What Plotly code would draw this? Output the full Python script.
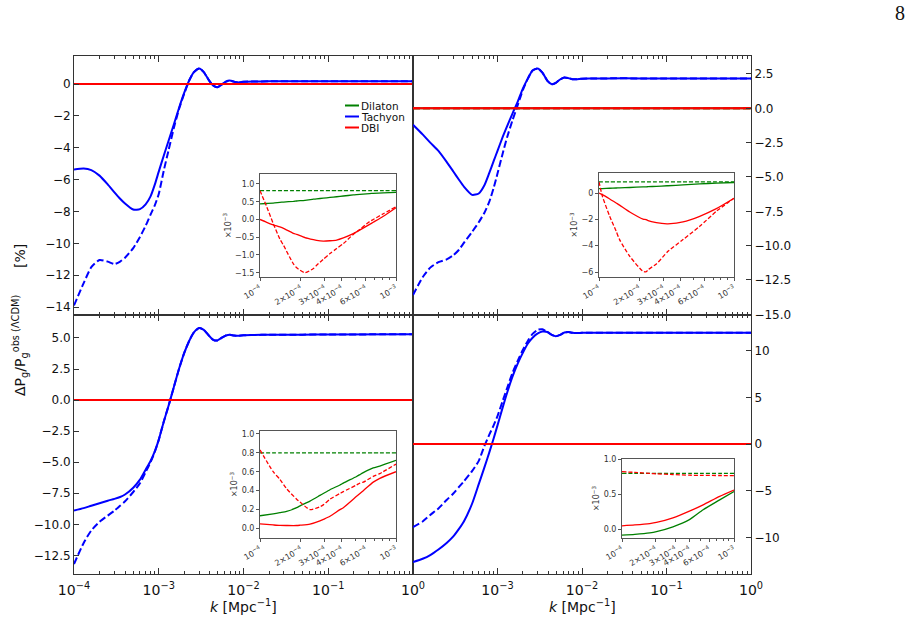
import plotly.graph_objects as go

# ---------------- data ----------------
K_MAIN = [1.0e-4, 1.3e-4, 1.6e-4, 2.0e-4, 2.5e-4, 3.0e-4, 3.5e-4, 4.0e-4, 5.0e-4, 6.0e-4,
          7.0e-4, 8.0e-4, 9.0e-4, 1.0e-3, 1.15e-3, 1.3e-3, 1.5e-3, 1.75e-3, 2.0e-3, 2.3e-3,
          2.6e-3, 3.0e-3, 3.4e-3, 3.9e-3, 4.4e-3, 4.9e-3, 5.5e-3, 6.2e-3, 6.9e-3, 7.7e-3,
          8.6e-3, 1.0e-2, 1.3e-2, 2.0e-2, 5.0e-2, 1.0e-1, 1.0]

# top-left panel (Tachyon solid / dashed)
TL_TACHYON = [-5.37, -5.30, -5.40, -5.75, -6.30, -6.80, -7.20, -7.50, -7.88, -7.85,
              -7.55, -7.05, -6.30, -5.50, -4.47, -3.59, -2.57, -1.44, -0.54, 0.25,
              0.75, 0.98, 0.75, 0.25, -0.10, -0.20, -0.05, 0.15, 0.22, 0.15,
              0.10, 0.14, 0.16, 0.17, 0.18, 0.18, 0.18]
TL_TACHYON_D = [-13.9, -12.5, -11.5, -11.05, -11.15, -11.3, -11.15, -10.9, -10.3, -9.6,
                -8.9, -8.2, -7.6, -6.9, -5.4, -4.2, -2.8, -1.5, -0.6, 0.25,
                0.75, 0.98, 0.75, 0.25, -0.10, -0.20, -0.05, 0.15, 0.22, 0.15,
                0.10, 0.14, 0.16, 0.17, 0.18, 0.18, 0.18]
# top-right panel
TR_TACHYON = [-1.2, -1.9, -2.5, -3.1, -3.9, -4.6, -5.2, -5.7, -6.3, -6.2,
              -5.6, -4.7, -3.85, -3.1, -2.1, -1.3, -0.4, 0.55, 1.45, 2.2,
              2.75, 2.9, 2.6, 2.0, 1.75, 1.85, 2.1, 2.25, 2.2, 2.12,
              2.12, 2.16, 2.17, 2.18, 2.18, 2.18, 2.18]
TR_TACHYON_D = [-13.6, -12.3, -11.6, -11.2, -11.0, -10.7, -10.3, -9.8, -9.0, -8.3,
                -7.6, -6.8, -5.8, -4.75, -3.3, -2.1, -0.9, 0.3, 1.35, 2.2,
                2.75, 2.9, 2.6, 2.0, 1.75, 1.85, 2.1, 2.25, 2.2, 2.12,
                2.12, 2.16, 2.17, 2.18, 2.18, 2.18, 2.18]
# bottom-left panel
BL_TACHYON = [-8.9, -8.7, -8.5, -8.3, -8.1, -7.95, -7.8, -7.6, -7.05, -6.4,
              -5.6, -4.9, -4.1, -3.2, -1.7, -0.5, 1.0, 2.6, 3.8, 4.8,
              5.45, 5.8, 5.65, 5.2, 4.85, 4.8, 5.0, 5.2, 5.26, 5.2,
              5.18, 5.22, 5.24, 5.26, 5.27, 5.28, 5.3]
BL_TACHYON_D = [-13.2, -11.5, -10.5, -9.8, -9.3, -8.9, -8.5, -8.15, -7.4, -6.7,
                -5.8, -5.0, -4.15, -3.2, -1.7, -0.5, 1.0, 2.6, 3.8, 4.8,
                5.45, 5.8, 5.65, 5.2, 4.85, 4.8, 5.0, 5.2, 5.26, 5.2,
                5.18, 5.22, 5.24, 5.26, 5.27, 5.28, 5.3]
# bottom-right panel
BR_TACHYON = [-12.65, -12.3, -11.9, -11.3, -10.6, -9.9, -9.1, -8.3, -6.4, -4.3,
              -2.5, -0.9, 0.6, 2.0, 3.9, 5.5, 7.2, 8.7, 9.8, 10.8,
              11.4, 11.85, 12.05, 12.0, 11.7, 11.55, 11.7, 11.95, 12.0, 11.93,
              11.9, 11.92, 11.93, 11.93, 11.93, 11.93, 11.93]
BR_TACHYON_D = [-8.9, -8.3, -7.6, -6.9, -6.0, -5.3, -4.6, -4.0, -2.9, -1.8,
                -0.2, 1.0, 2.0, 3.0, 4.6, 6.0, 7.6, 9.0, 10.1, 11.1,
                11.8, 12.25, 12.3, 12.0, 11.7, 11.55, 11.7, 11.95, 12.0, 11.93,
                11.9, 11.92, 11.93, 11.93, 11.93, 11.93, 11.93]

# Dilaton and DBI are ~0 on the main scale
K_FLAT = [1.0e-4, 1.0]
DILATON_MAIN = [0.0, 0.0]
DBI_MAIN = [0.0, 0.0]

# insets (units of 1e-3 %)
K_IN_TL = [1.0e-4, 1.12e-4, 1.25e-4, 1.4e-4, 1.49e-4, 1.76e-4, 1.86e-4, 2.14e-4, 2.47e-4, 2.61e-4,
           2.92e-4, 3.27e-4, 3.66e-4, 4.1e-4, 4.85e-4, 5.13e-4, 6.4e-4, 6.8e-4, 8.07e-4, 1.0e-3]
TL_DIL = [0.44, 0.45, 0.46, 0.48, 0.49, 0.51, 0.52, 0.54, 0.57, 0.58,
          0.60, 0.62, 0.64, 0.66, 0.69, 0.70, 0.73, 0.735, 0.75, 0.765]
TL_DIL_D = [0.81] * 20
TL_DBI = [0.0, -0.08, -0.15, -0.21, -0.25, -0.39, -0.42, -0.51, -0.57, -0.59,
          -0.61, -0.60, -0.58, -0.52, -0.40, -0.35, -0.14, -0.08, 0.09, 0.33]
TL_DBI_D = [0.81, 0.36, -0.11, -0.55, -0.73, -1.25, -1.36, -1.50, -1.38, -1.29,
            -1.12, -0.96, -0.82, -0.68, -0.42, -0.35, -0.06, 0.0, 0.16, 0.36]

K_IN_TR = [1.0e-4, 1.06e-4, 1.2e-4, 1.34e-4, 1.42e-4, 1.69e-4, 2.12e-4, 2.24e-4, 2.31e-4, 2.66e-4,
           3.19e-4, 3.24e-4, 4.19e-4, 5.57e-4, 7.4e-4, 1.0e-3]
TR_DIL = [0.33, 0.34, 0.36, 0.38, 0.39, 0.42, 0.46, 0.47, 0.48, 0.51,
          0.55, 0.55, 0.62, 0.69, 0.75, 0.80]
TR_DIL_D = [0.84] * 16
TR_DBI = [0.0, -0.12, -0.45, -0.76, -0.92, -1.44, -1.98, -2.03, -2.10, -2.25,
          -2.35, -2.35, -2.2, -1.77, -1.19, -0.4]
TR_DBI_D = [0.84, -0.25, -1.77, -2.9, -3.54, -4.81, -5.95, -5.98, -5.82, -5.39,
            -4.5, -4.43, -3.54, -2.53, -1.39, -0.4]

K_IN_BL = [1.0e-4, 1.25e-4, 1.4e-4, 1.57e-4, 1.86e-4, 1.97e-4, 2.33e-4, 2.76e-4, 2.92e-4, 3.27e-4,
           3.87e-4, 4.1e-4, 5.13e-4, 5.43e-4, 5.75e-4, 6.8e-4, 7.6e-4, 1.0e-3]
BL_DIL = [0.135, 0.155, 0.167, 0.18, 0.22, 0.24, 0.29, 0.35, 0.37, 0.41,
          0.46, 0.48, 0.55, 0.57, 0.59, 0.64, 0.66, 0.72]
BL_DIL_D = [0.80] * 18
BL_DBI = [0.05, 0.038, 0.033, 0.032, 0.032, 0.035, 0.046, 0.08, 0.096, 0.13,
          0.20, 0.22, 0.34, 0.37, 0.40, 0.49, 0.53, 0.60]
BL_DBI_D = [0.83, 0.60, 0.52, 0.42, 0.31, 0.28, 0.20, 0.23, 0.25, 0.31,
            0.37, 0.39, 0.46, 0.48, 0.49, 0.55, 0.58, 0.68]

K_IN_BR = [1.0e-4, 1.3e-4, 1.77e-4, 2.03e-4, 2.85e-4, 4.0e-4, 5.3e-4, 7.45e-4, 1.0e-3]
BR_DIL = [-0.08, -0.068, -0.047, -0.03, 0.038, 0.14, 0.28, 0.42, 0.54]
BR_DIL_D = [0.795] * 9
BR_DBI = [0.052, 0.065, 0.085, 0.10, 0.165, 0.26, 0.35, 0.47, 0.56]
BR_DBI_D = [0.82, 0.81, 0.795, 0.79, 0.78, 0.77, 0.768, 0.766, 0.765]

# legend entries and tick labels
LEGEND_NAMES = ["Dilaton", "Tachyon", "DBI"]
MAIN_XTICKVALS = [1e-4, 1e-3, 1e-2, 1e-1, 1.0]
MAIN_XTICKTEXT = ["10<sup>−4</sup>", "10<sup>−3</sup>", "10<sup>−2</sup>", "10<sup>−1</sup>", "10<sup>0</sup>"]
INSET_XTICKVALS = [1e-4, 2e-4, 3e-4, 4e-4, 6e-4, 1e-3]
INSET_XTICKTEXT = ["10<sup>−4</sup>", "2×10<sup>−4</sup>", "3×10<sup>−4</sup>", "4×10<sup>−4</sup>",
                   "6×10<sup>−4</sup>", "10<sup>−3</sup>"]

# ---------------- styling / layout ----------------
W, H = 912, 617
GREEN, BLUE, RED = "#008000", "#0000ff", "#ff0000"
LEGEND_COLORS = [GREEN, BLUE, RED]
FONT = "DejaVu Sans, Arial, sans-serif"
AX = "#333333"


def xd(a, b):
    return [a / W, b / W]


def yd(top, bot):
    return [1 - bot / H, 1 - top / H]


fig = go.Figure()

main_minor = [m * 10 ** e for e in range(-4, 0) for m in range(2, 10)]
inset_minor = [5e-4, 7e-4, 8e-4, 9e-4]


def add_line(x, y, color, xa, ya, dash="solid", width=2.0, name=None):
    fig.add_trace(go.Scatter(
        x=x, y=y, mode="lines", name=name, showlegend=False,
        line=dict(color=color, width=width, dash=dash, shape="spline", smoothing=0.6),
        xaxis=xa, yaxis=ya, hoverinfo="skip"))


MD = "7px,3px"
panels = [
    ("x", "y", TL_TACHYON, TL_TACHYON_D),
    ("x2", "y2", TR_TACHYON, TR_TACHYON_D),
    ("x3", "y3", BL_TACHYON, BL_TACHYON_D),
    ("x4", "y4", BR_TACHYON, BR_TACHYON_D),
]
for xa, ya, sol, das in panels:
    add_line(K_FLAT, DILATON_MAIN, GREEN, xa, ya, name="Dilaton")
    add_line(K_FLAT, DILATON_MAIN, GREEN, xa, ya, dash=MD)
    add_line(K_MAIN, sol, BLUE, xa, ya, name="Tachyon")
    add_line(K_MAIN, das, BLUE, xa, ya, dash=MD)
    add_line(K_FLAT, DBI_MAIN, RED, xa, ya, name="DBI")
    add_line(K_FLAT, DBI_MAIN, RED, xa, ya, dash=MD)

ID = "4px,2px"
insets = [
    ("x5", "y5", K_IN_TL, TL_DIL, TL_DIL_D, TL_DBI, TL_DBI_D),
    ("x6", "y6", K_IN_TR, TR_DIL, TR_DIL_D, TR_DBI, TR_DBI_D),
    ("x7", "y7", K_IN_BL, BL_DIL, BL_DIL_D, BL_DBI, BL_DBI_D),
    ("x8", "y8", K_IN_BR, BR_DIL, BR_DIL_D, BR_DBI, BR_DBI_D),
]
for xa, ya, kk, dil, dild, dbi, dbid in insets:
    add_line(kk, dil, GREEN, xa, ya, width=1.3)
    add_line(kk, dild, GREEN, xa, ya, dash=ID, width=1.3)
    add_line(kk, dbi, RED, xa, ya, width=1.3)
    add_line(kk, dbid, RED, xa, ya, dash=ID, width=1.3)


def main_x(dom, anchor, labels, text=None):
    return dict(
        type="log", range=[-4, 0], domain=dom, anchor=anchor, automargin=False,
        showline=True, linecolor=AX, linewidth=1, mirror="ticks",
        ticks="inside", ticklen=6, tickcolor=AX, tickwidth=1,
        tickvals=MAIN_XTICKVALS, ticktext=text if text else MAIN_XTICKTEXT,
        showticklabels=labels, showgrid=False, zeroline=False, ticklabelstandoff=3,
        tickfont=dict(family=FONT, size=14, color="#111"),
        minor=dict(tickmode="array", tickvals=main_minor, ticks="inside",
                   ticklen=3, tickcolor=AX, tickwidth=1),
    )


def main_y(dom, anchor, rng, dtick, side, fmt=None):
    d = dict(
        range=rng, domain=dom, anchor=anchor, side=side, automargin=False,
        showline=True, linecolor=AX, linewidth=1, mirror=True,
        ticks="inside", ticklen=5, tickcolor=AX, tickwidth=1,
        dtick=dtick, tick0=0, showgrid=False, zeroline=False,
        tickfont=dict(family=FONT, size=12, color="#111"),
    )
    if fmt:
        d["tickformat"] = fmt
    return d


def inset_x(dom, anchor):
    return dict(
        type="log", range=[-4, -3], domain=dom, anchor=anchor, automargin=False,
        showline=True, linecolor="#555", linewidth=1, mirror=True,
        ticks="outside", ticklen=3, tickcolor="#555",
        tickvals=INSET_XTICKVALS, ticktext=INSET_XTICKTEXT, tickangle=-30,
        tickfont=dict(family=FONT, size=8, color="#333"),
        showgrid=False, zeroline=False,
        minor=dict(tickmode="array", tickvals=inset_minor, ticks="outside",
                   ticklen=2, tickcolor="#555"),
    )


def inset_y(dom, anchor, rng, dtick, fmt):
    return dict(
        range=rng, domain=dom, anchor=anchor, automargin=False,
        showline=True, linecolor="#555", linewidth=1, mirror=True,
        ticks="outside", ticklen=3, tickcolor="#555",
        dtick=dtick, tick0=0, tickformat=fmt,
        tickfont=dict(family=FONT, size=8, color="#333"),
        showgrid=False, zeroline=False,
        title=dict(text="×10<sup>−3</sup>", font=dict(family=FONT, size=8, color="#333"),
                   standoff=2),
    )


right_text = [""] + MAIN_XTICKTEXT[1:]

fig.update_layout(
    width=W, height=H, margin=dict(l=0, r=0, t=0, b=0, autoexpand=False),
    paper_bgcolor="white", plot_bgcolor="white",
    font=dict(family=FONT, color="#111"),
    showlegend=False,
    xaxis=main_x(xd(74, 413), "y", False),
    yaxis=main_y(yd(56, 315), "x", [-14.5, 1.76], 2, "left"),
    xaxis2=main_x(xd(413, 751), "y2", False),
    yaxis2=main_y(yd(56, 315), "x2", [-15.05, 3.81], 2.5, "right", ".1f"),
    xaxis3=main_x(xd(74, 413), "y3", True),
    yaxis3=main_y(yd(315, 574), "x3", [-14.0, 6.85], 2.5, "left", ".1f"),
    xaxis4=main_x(xd(413, 751), "y4", True, right_text),
    yaxis4=main_y(yd(315, 574), "x4", [-13.93, 13.83], 5, "right"),
    xaxis5=inset_x(xd(260, 396), "y5"),
    yaxis5=inset_y(yd(174, 277), "x5", [-1.62, 1.28], 0.5, ".1f"),
    xaxis6=inset_x(xd(599, 734), "y6"),
    yaxis6=inset_y(yd(173, 277), "x6", [-6.38, 1.52], 2, "d"),
    xaxis7=inset_x(xd(260, 396), "y7"),
    yaxis7=inset_y(yd(431, 538), "x7", [-0.1, 1.03], 0.2, ".1f"),
    xaxis8=inset_x(xd(622, 734), "y8"),
    yaxis8=inset_y(yd(459, 538), "x8", [-0.12, 1.0], 0.5, ".1f"),
)

# legend (drawn as key lines + labels inside the top-left panel)
for i, (nm, col) in enumerate(zip(LEGEND_NAMES, LEGEND_COLORS)):
    yy = 1 - (105.5 + 11 * i) / H
    fig.add_shape(type="line", xref="paper", yref="paper", x0=345 / W, x1=359 / W,
                  y0=yy, y1=yy, line=dict(color=col, width=2))
    fig.add_annotation(x=359 / W, y=yy, xref="paper", yref="paper", text=nm,
                       xanchor="left", yanchor="middle", showarrow=False,
                       font=dict(family=FONT, size=10.5, color="#111"))

# axis titles
for xc in [(74 + 413) / 2, (413 + 751) / 2]:
    fig.add_annotation(x=xc / W, y=1 - 606 / H, xref="paper", yref="paper",
                       xanchor="center", yanchor="middle",
                       text="<i>k</i> [Mpc<sup>−1</sup>]", showarrow=False,
                       font=dict(family=FONT, size=14, color="#111"))
fig.add_annotation(x=20 / W, y=1 - 320 / H, xref="paper", yref="paper", textangle=-90,
                   xanchor="center", yanchor="middle",
                   text="ΔP<sub>g</sub>/P<sub>g</sub><sup>obs (ΛCDM)</sup>      [%]",
                   showarrow=False, font=dict(family=FONT, size=14, color="#111"))
fig.add_annotation(x=900 / W, y=1 - 13 / H, xref="paper", yref="paper", text="8",
                   xanchor="center", yanchor="middle",
                   showarrow=False, font=dict(family="Liberation Serif, serif", size=20, color="#111"))

fig.write_html("out.html")
